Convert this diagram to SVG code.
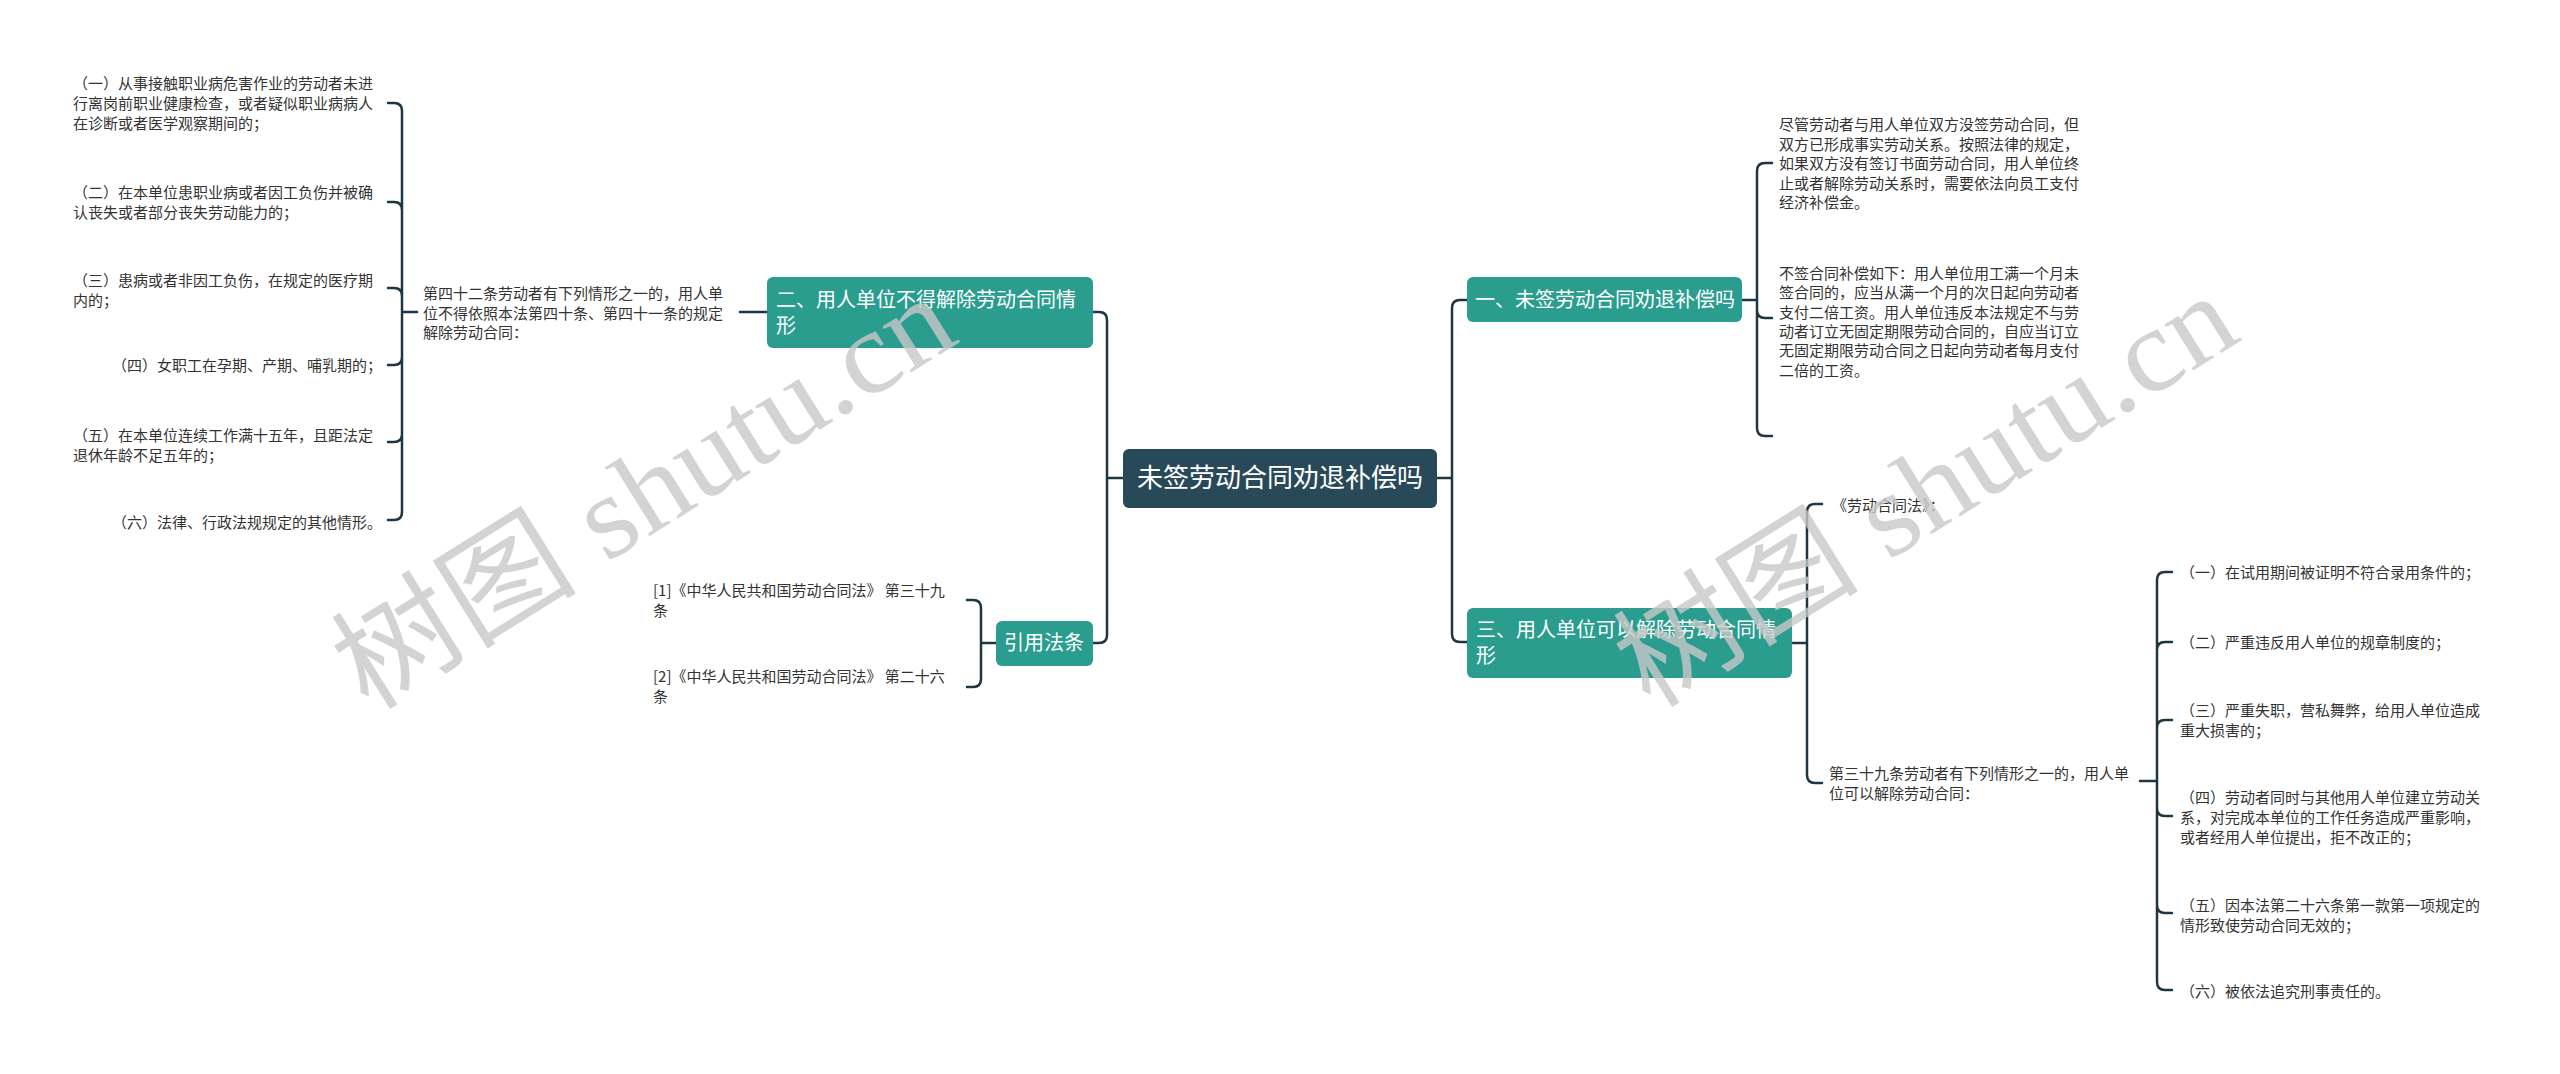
<svg xmlns="http://www.w3.org/2000/svg" width="2560" height="1074" viewBox="0 0 2560 1074">
<style>
.leaf{font-family:"Noto Sans CJK SC","Noto Sans",sans-serif;font-size:15px;fill:#333333}
.node{font-family:"Noto Sans CJK SC","Noto Sans",sans-serif;font-size:20px;fill:#ffffff}
.root{font-family:"Noto Sans CJK SC","Noto Sans",sans-serif;font-size:26px;fill:#ffffff}
.teal{fill:#2a9d8f}
.wm{font-family:"Liberation Serif","Noto Sans CJK SC",serif;font-size:118px;fill:#c8c8c8;fill-opacity:0.8}
#connectors path{fill:none;stroke:#1e3642;stroke-width:2.5;stroke-linecap:round}
</style>
<rect width="2560" height="1074" fill="#ffffff"/>
<g id="connectors">
<path d="M1123,478 H1107 M1107,478 V320 Q1107,312 1099,312 H1093 M1107,478 V635 Q1107,643 1099,643 H1093"/>
<path d="M1437,478 H1452 M1452,478 V308 Q1452,300 1460,300 H1467 M1452,478 V634 Q1452,642 1460,642 H1467"/>
<path d="M1742,300 H1757 M1757,300 V171 Q1757,163 1765,163 H1772 M1757,300 V310 Q1757,318 1765,318 H1772 M1757,300 V428 Q1757,436 1765,436 H1772"/>
<path d="M1793,643 H1807 M1807,643 V512 Q1807,504 1815,504 H1822 M1807,643 V775 Q1807,783 1815,783 H1822"/>
<path d="M2140,781 H2157 M2157,781 V580 Q2157,572 2165,572 H2172 M2157,781 V650 Q2157,642 2165,642 H2172 M2157,781 V728 Q2157,720 2165,720 H2172 M2157,781 V808 Q2157,816 2165,816 H2172 M2157,781 V905 Q2157,913 2165,913 H2172 M2157,781 V982 Q2157,990 2165,990 H2172"/>
<path d="M740,312 H767"/>
<path d="M417,312 H402 M402,312 V111 Q402,103 394,103 H388 M402,312 V210 Q402,202 394,202 H388 M402,312 V296 Q402,288 394,288 H388 M402,312 V357 Q402,365 394,365 H388 M402,312 V434 Q402,442 394,442 H388 M402,312 V512 Q402,520 394,520 H388"/>
<path d="M996,643 H981 M981,643 V608 Q981,600 973,600 H967 M981,643 V679 Q981,687 973,687 H967"/>
</g>
<g id="root">
<rect x="1123" y="449" width="314" height="59" rx="6" fill="#284a58"/>
<text class="root" x="1280" y="487" text-anchor="middle">未签劳动合同劝退补偿吗</text>
</g>
<g id="n1">
<rect class="teal" x="1467" y="277" width="275" height="45" rx="6"/>
<text class="node" x="1475" y="307">一、未签劳动合同劝退补偿吗</text>
</g>
<g id="n1a">
<text class="leaf"><tspan x="1779" y="130">尽管劳动者与用人单位双方没签劳动合同，但</tspan><tspan x="1779" y="150">双方已形成事实劳动关系。按照法律的规定，</tspan><tspan x="1779" y="169">如果双方没有签订书面劳动合同，用人单位终</tspan><tspan x="1779" y="189">止或者解除劳动关系时，需要依法向员工支付</tspan><tspan x="1779" y="208">经济补偿金。</tspan></text>
</g>
<g id="n1b">
<text class="leaf"><tspan x="1779" y="279">不签合同补偿如下：用人单位用工满一个月未</tspan><tspan x="1779" y="298">签合同的，应当从满一个月的次日起向劳动者</tspan><tspan x="1779" y="318">支付二倍工资。用人单位违反本法规定不与劳</tspan><tspan x="1779" y="337">动者订立无固定期限劳动合同的，自应当订立</tspan><tspan x="1779" y="356">无固定期限劳动合同之日起向劳动者每月支付</tspan><tspan x="1779" y="376">二倍的工资。</tspan></text>
</g>
<g id="n3">
<rect class="teal" x="1467" y="608" width="325" height="70" rx="6"/>
<text class="node"><tspan x="1476" y="637">三、用人单位可以解除劳动合同情</tspan><tspan x="1476" y="663">形</tspan></text>
</g>
<g id="n3a">
<text class="leaf" x="1832" y="511">《劳动合同法》：</text>
</g>
<g id="n3b">
<text class="leaf"><tspan x="1829" y="779">第三十九条劳动者有下列情形之一的，用人单</tspan><tspan x="1829" y="799">位可以解除劳动合同：</tspan></text>
</g>
<g id="n3b1"><text class="leaf" x="2180" y="578">（一）在试用期间被证明不符合录用条件的；</text></g>
<g id="n3b2"><text class="leaf" x="2180" y="648">（二）严重违反用人单位的规章制度的；</text></g>
<g id="n3b3"><text class="leaf"><tspan x="2180" y="716">（三）严重失职，营私舞弊，给用人单位造成</tspan><tspan x="2180" y="736">重大损害的；</tspan></text></g>
<g id="n3b4"><text class="leaf"><tspan x="2180" y="803">（四）劳动者同时与其他用人单位建立劳动关</tspan><tspan x="2180" y="823">系，对完成本单位的工作任务造成严重影响，</tspan><tspan x="2180" y="843">或者经用人单位提出，拒不改正的；</tspan></text></g>
<g id="n3b5"><text class="leaf"><tspan x="2180" y="911">（五）因本法第二十六条第一款第一项规定的</tspan><tspan x="2180" y="931">情形致使劳动合同无效的；</tspan></text></g>
<g id="n3b6"><text class="leaf" x="2180" y="997">（六）被依法追究刑事责任的。</text></g>
<g id="n2">
<rect class="teal" x="767" y="277" width="326" height="71" rx="6"/>
<text class="node"><tspan x="776" y="307">二、用人单位不得解除劳动合同情</tspan><tspan x="776" y="333">形</tspan></text>
</g>
<g id="n2a">
<text class="leaf"><tspan x="423" y="299">第四十二条劳动者有下列情形之一的，用人单</tspan><tspan x="423" y="319">位不得依照本法第四十条、第四十一条的规定</tspan><tspan x="423" y="338">解除劳动合同：</tspan></text>
</g>
<g id="n2a1"><text class="leaf"><tspan x="73" y="89">（一）从事接触职业病危害作业的劳动者未进</tspan><tspan x="73" y="109">行离岗前职业健康检查，或者疑似职业病病人</tspan><tspan x="73" y="129">在诊断或者医学观察期间的；</tspan></text></g>
<g id="n2a2"><text class="leaf"><tspan x="73" y="198">（二）在本单位患职业病或者因工负伤并被确</tspan><tspan x="73" y="218">认丧失或者部分丧失劳动能力的；</tspan></text></g>
<g id="n2a3"><text class="leaf"><tspan x="73" y="286">（三）患病或者非因工负伤，在规定的医疗期</tspan><tspan x="73" y="306">内的；</tspan></text></g>
<g id="n2a4"><text class="leaf" x="112" y="371">（四）女职工在孕期、产期、哺乳期的；</text></g>
<g id="n2a5"><text class="leaf"><tspan x="73" y="441">（五）在本单位连续工作满十五年，且距法定</tspan><tspan x="73" y="461">退休年龄不足五年的；</tspan></text></g>
<g id="n2a6"><text class="leaf" x="112" y="528">（六）法律、行政法规规定的其他情形。</text></g>
<g id="n4">
<rect class="teal" x="996" y="621" width="97" height="45" rx="6"/>
<text class="node" x="1044" y="650" text-anchor="middle">引用法条</text>
</g>
<g id="n4a"><text class="leaf"><tspan x="653" y="596">[1]《中华人民共和国劳动合同法》 第三十九</tspan><tspan x="653" y="616">条</tspan></text></g>
<g id="n4b"><text class="leaf"><tspan x="653" y="682">[2]《中华人民共和国劳动合同法》 第二十六</tspan><tspan x="653" y="702">条</tspan></text></g>
<g id="watermarks">
<text class="wm" x="0" y="0" transform="translate(368,712) rotate(-32)" textLength="700" lengthAdjust="spacingAndGlyphs">树图 shutu.cn</text>
<text class="wm" x="0" y="0" transform="translate(1650,710) rotate(-32)" textLength="700" lengthAdjust="spacingAndGlyphs">树图 shutu.cn</text>
</g>
</svg>
